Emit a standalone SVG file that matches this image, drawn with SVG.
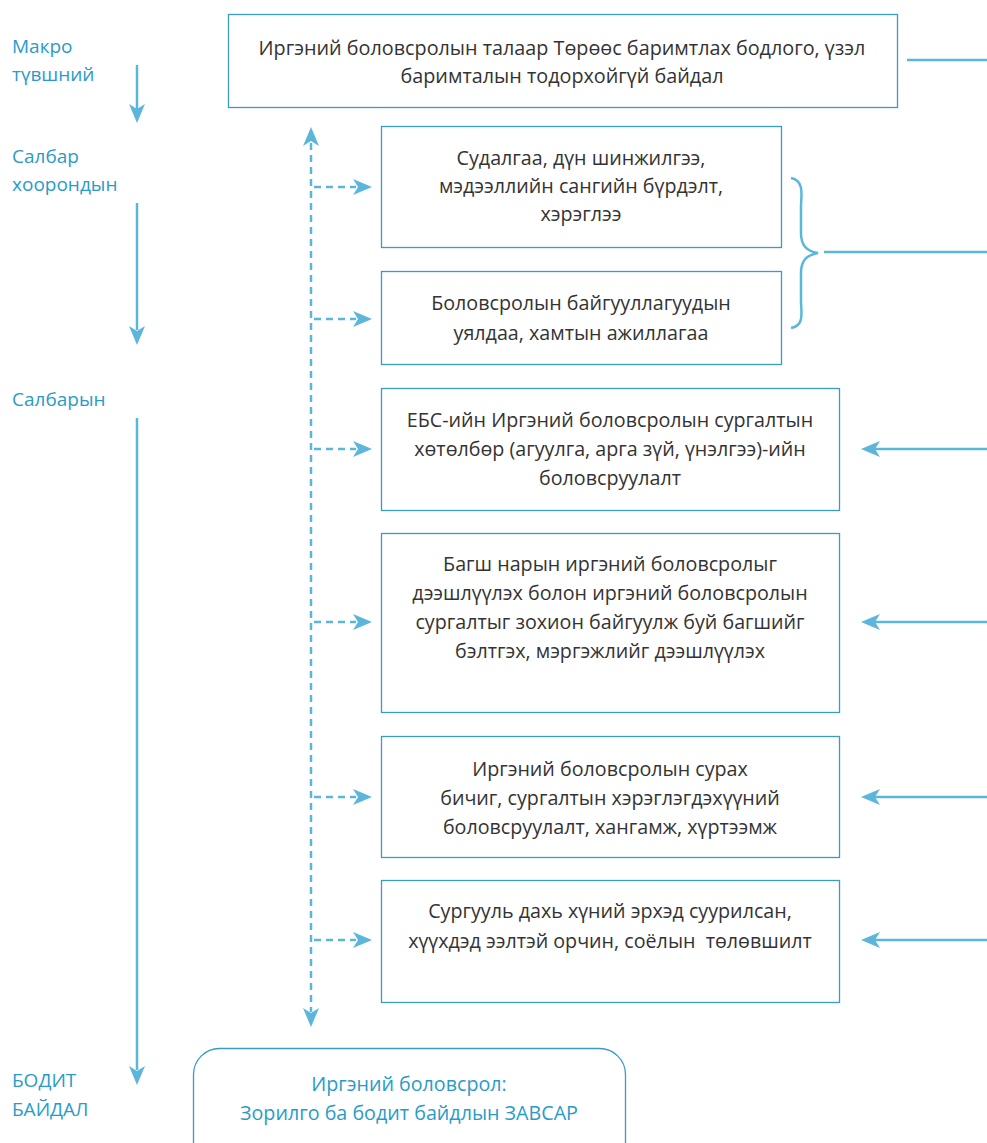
<svg xmlns="http://www.w3.org/2000/svg" width="987" height="1143" viewBox="0 0 987 1143">
<defs>
<style>
.box{fill:#fff;stroke:#3a9cc6;stroke-width:1.3}
.t{font-family:"Open Sans","Liberation Sans",sans-serif;font-size:19.7px;fill:#333;text-anchor:middle}
.lbl{font-family:"Open Sans","Liberation Sans",sans-serif;font-size:19px;fill:#2a9bc8}
.ln{fill:none;stroke:#5cb6dc;stroke-width:2.5}
.dash{fill:none;stroke:#5cb6dc;stroke-width:2.5;stroke-dasharray:7,5}
.ah{fill:#5cb6dc}
</style>
</defs>
<rect width="987" height="1143" fill="#fff"/>

<g id="levels">
<text class="lbl" x="12" y="53">Макро</text>
<text class="lbl" x="12" y="81">түвшний</text>
<text class="lbl" x="12" y="163">Салбар</text>
<text class="lbl" x="12" y="191">хоорондын</text>
<text class="lbl" x="12" y="406">Салбарын</text>
<text class="lbl" x="12" y="1087">БОДИТ</text>
<text class="lbl" x="12" y="1116">БАЙДАЛ</text>
</g>

<g id="connectors">
<line class="ln" x1="137" y1="65" x2="137" y2="110"/>
<path class="ah" d="M129,104 L137,123 L145,104 L137,109 Z"/>
<line class="ln" x1="137" y1="203" x2="137" y2="330"/>
<path class="ah" d="M129,326 L137,345 L145,326 L137,331 Z"/>
<line class="ln" x1="137" y1="418" x2="137" y2="1070"/>
<path class="ah" d="M129,1066 L137,1085 L145,1066 L137,1071 Z"/>

<line class="dash" x1="311" y1="143" x2="311" y2="1012"/>
<path class="ah" d="M303,146 L311,127 L319,146 L311,141 Z"/>
<path class="ah" d="M303,1008 L311,1027 L319,1008 L311,1013 Z"/>

<line class="dash" x1="314" y1="187" x2="356" y2="187"/>
<path class="ah" d="M353,179 L372,187 L353,195 L358,187 Z"/>
<line class="dash" x1="314" y1="319" x2="356" y2="319"/>
<path class="ah" d="M353,311 L372,319 L353,327 L358,319 Z"/>
<line class="dash" x1="314" y1="449" x2="356" y2="449"/>
<path class="ah" d="M353,441 L372,449 L353,457 L358,449 Z"/>
<line class="dash" x1="314" y1="622" x2="356" y2="622"/>
<path class="ah" d="M353,614 L372,622 L353,630 L358,622 Z"/>
<line class="dash" x1="314" y1="797" x2="356" y2="797"/>
<path class="ah" d="M353,789 L372,797 L353,805 L358,797 Z"/>
<line class="dash" x1="314" y1="940" x2="356" y2="940"/>
<path class="ah" d="M353,932 L372,940 L353,948 L358,940 Z"/>

<line class="ln" x1="907" y1="60" x2="987" y2="60"/>
<path class="ln" d="M791,178 C803,180 802,192 801,205 L801,233 C801,245 806,251 818,253 C806,255 801,261 801,273 L801,303 C802,316 803,326 791,328"/>
<line class="ln" x1="824" y1="252" x2="987" y2="252"/>

<line class="ln" x1="875" y1="449" x2="987" y2="449"/>
<path class="ah" d="M880,441 L861,449 L880,457 L875,449 Z"/>
<line class="ln" x1="875" y1="622" x2="987" y2="622"/>
<path class="ah" d="M880,614 L861,622 L880,630 L875,622 Z"/>
<line class="ln" x1="875" y1="797" x2="987" y2="797"/>
<path class="ah" d="M880,789 L861,797 L880,805 L875,797 Z"/>
<line class="ln" x1="875" y1="940" x2="987" y2="940"/>
<path class="ah" d="M880,932 L861,940 L880,948 L875,940 Z"/>
</g>

<g id="n1">
<rect class="box" x="228.5" y="14.5" width="669" height="93"/>
<text class="t" x="562" y="55" style="font-size:19.8px">Иргэний боловсролын талаар Төрөөс баримтлах бодлого, үзэл</text>
<text class="t" x="562" y="83" style="font-size:19.8px">баримталын тодорхойгүй байдал</text>
</g>
<g id="n2">
<rect class="box" x="381.5" y="126.5" width="400" height="121"/>
<text class="t" x="581" y="165">Судалгаа, дүн шинжилгээ,</text>
<text class="t" x="581" y="193">мэдээллийн сангийн бүрдэлт,</text>
<text class="t" x="581" y="221">хэрэглээ</text>
</g>
<g id="n3">
<rect class="box" x="381.5" y="271.5" width="400" height="93"/>
<text class="t" x="581" y="310">Боловсролын байгууллагуудын</text>
<text class="t" x="581" y="340">уялдаа, хамтын ажиллагаа</text>
</g>
<g id="n4">
<rect class="box" x="381.5" y="388.5" width="458" height="122"/>
<text class="t" x="610" y="427">ЕБС-ийн Иргэний боловсролын сургалтын</text>
<text class="t" x="610" y="456">хөтөлбөр (агуулга, арга зүй, үнэлгээ)-ийн</text>
<text class="t" x="610" y="485">боловсруулалт</text>
</g>
<g id="n5">
<rect class="box" x="381.5" y="533.5" width="458" height="179"/>
<text class="t" x="610" y="571">Багш нарын иргэний боловсролыг</text>
<text class="t" x="610" y="600">дээшлүүлэх болон иргэний боловсролын</text>
<text class="t" x="610" y="629">сургалтыг зохион байгуулж буй багшийг</text>
<text class="t" x="610" y="658">бэлтгэх, мэргэжлийг дээшлүүлэх</text>
</g>
<g id="n6">
<rect class="box" x="381.5" y="736.5" width="458" height="121"/>
<text class="t" x="610" y="776">Иргэний боловсролын сурах</text>
<text class="t" x="610" y="805">бичиг, сургалтын хэрэглэгдэхүүний</text>
<text class="t" x="610" y="834">боловсруулалт, хангамж, хүртээмж</text>
</g>
<g id="n7">
<rect class="box" x="381.5" y="880.5" width="458" height="122"/>
<text class="t" x="610" y="918">Сургууль дахь хүний эрхэд суурилсан,</text>
<text class="t" x="610" y="948" style="white-space:pre" xml:space="preserve">хүүхдэд ээлтэй орчин, соёлын  төлөвшилт</text>
</g>
<g id="n8">
<rect class="box" x="193.5" y="1048.5" width="432" height="130" rx="26" ry="26"/>
<text class="t" x="409" y="1091" style="fill:#2a9bc8">Иргэний боловсрол:</text>
<text class="t" x="409" y="1120" style="fill:#2a9bc8">Зорилго ба бодит байдлын ЗАВСАР</text>
</g>
</svg>
